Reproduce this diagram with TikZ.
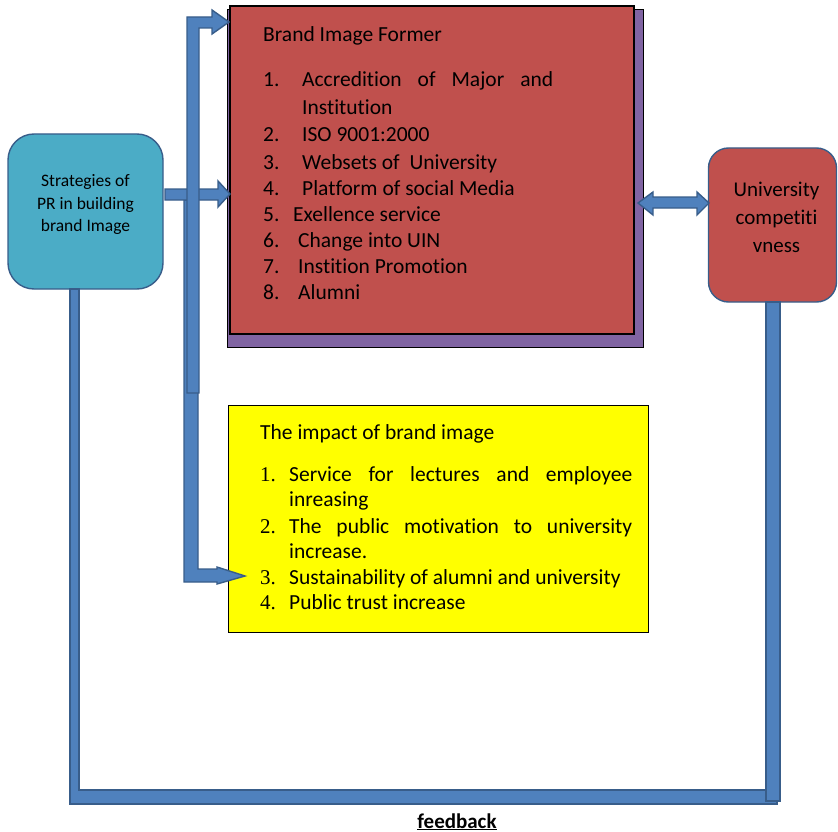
\documentclass[tikz,border=0pt]{standalone}
\usepackage{fontspec}
\setmainfont{Carlito}[Ligatures={NoCommon}]
\newfontfamily\tnr{Liberation Serif}
\newcommand\myti{t\kern0pt i}
\definecolor{arrfill}{RGB}{79,129,189}
\definecolor{arrline}{RGB}{56,93,138}
\definecolor{redbox}{RGB}{192,80,77}
\definecolor{purp}{RGB}{128,100,162}
\definecolor{cyanbox}{RGB}{75,172,198}
\definecolor{yel}{RGB}{255,255,0}
\begin{document}
\begin{tikzpicture}[x=1pt,y=-1pt,
  barrow/.style={fill=arrfill, draw=arrline, line width=1.4pt, line join=miter},
  txt/.style={anchor=base west, inner sep=0pt, font=\fontsize{21.5}{25}\selectfont},
  ntxt/.style={anchor=base west, inner sep=0pt, font=\fontsize{21}{25}\tnr},
  ctxt/.style={anchor=base, inner sep=0pt},
  box/.style={inner sep=0pt, outer sep=0pt}]
\useasboundingbox (0,0) rectangle (838,832);
% boxes
\node[box, draw=black, line width=1pt, fill=purp, minimum width=416pt, minimum height=337pt] (shadow) at (435,178.5) {};
\node[box, draw=black, line width=1.2pt, fill=redbox, minimum width=404pt, minimum height=328pt] (former) at (432,170) {};
\node[box, draw=arrline, line width=1.4pt, fill=cyanbox, rounded corners=26pt, minimum width=155pt, minimum height=155pt] (strat) at (85.5,211.5) {};
\node[box, draw=arrline, line width=1.4pt, fill=redbox, rounded corners=20pt, minimum width=128pt, minimum height=154pt] (univ) at (772.5,225) {};
\node[box, draw=black, line width=0.8pt, fill=yel, minimum width=420pt, minimum height=227pt] (impact) at (438,518.5) {};
% feedback bars
\draw[barrow] (70,289) -- (70,804) -- (777,804) -- (777,790) -- (79,790) -- (79,289) -- cycle;
\draw[barrow] (766,302) rectangle (780,801);
% bent arrow to impact box
\draw[barrow] (184,200) -- (184,582) -- (217,582) -- (217,584) -- (245,576) -- (217,567) -- (217,569) -- (198,569) -- (198,200) -- cycle;
% middle arrow
\draw[barrow] (165,189) -- (218,189) -- (218,181) -- (230,194) -- (218,207) -- (218,200) -- (165,200) -- cycle;
% top bent arrow
\draw[barrow] (187,393) -- (187,17) -- (212,17) -- (212,10) -- (229,22) -- (212,34) -- (212,28) -- (199,28) -- (199,393) -- cycle;
% double arrow
\draw[barrow] (638,203) -- (653,192) -- (653,197) -- (697,197) -- (697,192) -- (709,203) -- (697,215) -- (697,208) -- (653,208) -- (653,215) -- cycle;
% texts: former
\node[txt] (f0) at (263,42) {Brand Image Former};
\node[txt] (f1n) at (263,87) {1.};
\node[txt] (f1) at (302,87) {\makebox[251pt][s]{Accredi\myti on of Major and}};
\node[txt] (f1b) at (302,115) {Institu\myti on};
\node[txt] (f2n) at (263,142) {2.};
\node[txt] (f2) at (302,142) {ISO 9001:2000};
\node[txt] (f3n) at (263,169) {3.};
\node[txt] (f3) at (302,169) {Websets of\ \ University};
\node[txt] (f4n) at (263,195) {4.};
\node[txt] (f4) at (302,195) {Platform of social Media};
\node[txt] (f5n) at (263,221) {5.};
\node[txt] (f5) at (293,221) {Exellence service};
\node[txt] (f6n) at (263,247) {6.};
\node[txt] (f6) at (298,247) {Change into UIN};
\node[txt] (f7n) at (263,273) {7.};
\node[txt] (f7) at (298,273) {Insti\myti on Promotion};
\node[txt] (f8n) at (263,299) {8.};
\node[txt] (f8) at (298,299) {Alumni};
% strategies
\node[ctxt, font=\fontsize{17.5}{21}\selectfont] (s1) at (85.5,186) {Strategies of};
\node[ctxt, font=\fontsize{17.5}{21}\selectfont] (s2) at (85.5,209) {PR in building};
\node[ctxt, font=\fontsize{17.5}{21}\selectfont] (s3) at (85.5,231) {brand Image};
% university
\node[ctxt, font=\fontsize{21}{25}\selectfont] (u1) at (776.5,196) {University};
\node[ctxt, font=\fontsize{21}{25}\selectfont] (u2) at (776.5,224) {compe\myti\myti};
\node[ctxt, font=\fontsize{21}{25}\selectfont] (u3) at (776.5,252) {vness};
% impact
\node[txt] (i0) at (260,439) {The impact of brand image};
\node[ntxt] (i1n) at (260,481) {1.};
\node[txt] (i1) at (289,481) {\makebox[343pt][s]{Service for lectures and employee}};
\node[txt] (i1b) at (289,506) {inreasing};
\node[ntxt] (i2n) at (260,533) {2.};
\node[txt] (i2) at (289,533) {\makebox[343pt][s]{The public mo\myti va\myti on to university}};
\node[txt] (i2b) at (289,558) {increase.};
\node[ntxt] (i3n) at (260,584) {3.};
\node[txt] (i3) at (289,584) {Sustainability of alumni and university};
\node[ntxt] (i4n) at (260,609) {4.};
\node[txt] (i4) at (289,609) {Public trust increase};
% feedback label
\node[ctxt, font=\fontsize{21}{25}\selectfont\bfseries] (fb) at (457,828) {\underline{feedback}};
\end{tikzpicture}
\end{document}
